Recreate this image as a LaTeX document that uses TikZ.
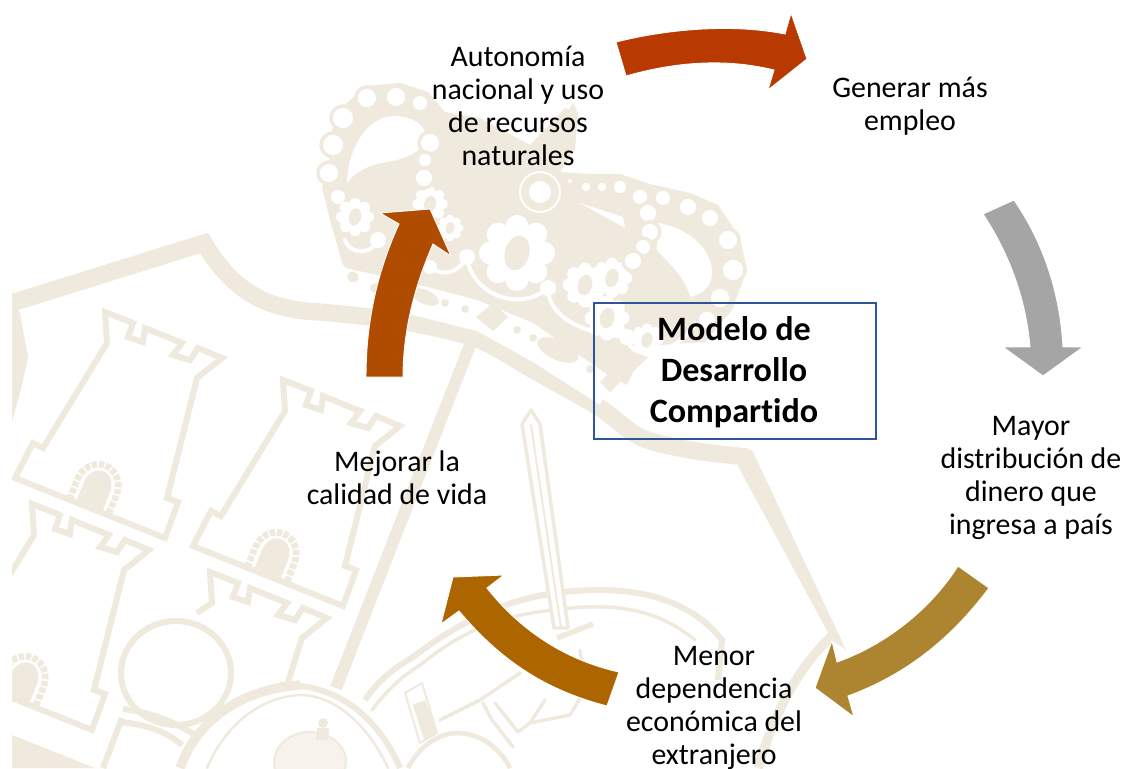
\documentclass[tikz,border=0pt]{standalone}
\usepackage{fontspec}
\setmainfont[Ligatures=NoCommon]{Carlito}
\definecolor{wmc}{HTML}{F0E9DE}
\definecolor{wml}{HTML}{F7F3EC}
\definecolor{boxc}{HTML}{2F5597}
\definecolor{ared}{HTML}{B83A00}
\definecolor{agray}{HTML}{A5A5A5}
\definecolor{agold}{HTML}{AD8531}
\definecolor{abrown}{HTML}{AD6500}
\definecolor{aorange}{HTML}{B04C00}
\tikzset{
  wmline/.style={draw=wmc,line width=4.5,line join=miter},
  wmthin/.style={draw=wmc,line width=2.6,line join=round,line cap=round},
  wmband/.style={draw=wmc,line width=13,line join=miter},
  bead/.style={fill=white,draw=wmc,line width=2.6},
  gapline/.style={draw=white,line width=3,line cap=round},
  flow/.style={fill=white,draw=none},
  block/.style={draw=white,line width=0.7,line join=miter},
  lab/.style={align=center,text=black,font=\fontsize{22.4}{24.9}\selectfont},
  title/.style={align=center,text=black,font=\fontsize{25.6}{30.8}\selectfont\bfseries},
}
\newcommand{\towerdome}[2]{%
  \begin{scope}[rotate around={-22:(#1,#2)}]
  \draw[wmc,line width=5,dash pattern=on 4pt off 1.3pt] (#1-21,#2+22) -- (#1-21,#2) arc (180:360:21 and 23) -- (#1+21,#2+22);
  \fill[wmc] (#1-14,#2+24) -- (#1-14,#2) arc (180:360:14 and 17) -- (#1+14,#2+24) -- cycle;
  \end{scope}}
\newcommand{\tower}{%
  \draw[wmline] (105,312) -- (133,323) -- (128,337) -- (143,342) -- (145,328) -- (182,343) -- (173,355) -- (190,360) -- (198,348) -- (222,358) -- (197,378) -- (167,498) -- (178,502) -- (165,538) -- (15,478) -- (33,443) -- (43,448) -- (107,343) -- cycle;
  \towerdome{97}{487}}
\newcommand{\flower}[3]{%
  \foreach \ang in {0,45,...,315}{\fill[flow] (#1,#2) ++(\ang:#3*0.78) circle (#3*0.34);}
  \fill[flow] (#1,#2) circle (#3*0.78);
  \fill[wmc,rotate around={-15:(#1,#2)}] (#1,#2) ellipse [x radius=#3*0.36,y radius=#3*0.52];}
\begin{document}
\begin{tikzpicture}[x=0.75pt,y=-0.75pt]
\useasboundingbox (0,0) rectangle (1125,768);
\fill[white] (0,0) rectangle (1125,768);
\begin{scope}
\clip (12,0) rectangle (1125,768);
% shield outline
\draw[wmband] plot[smooth,tension=0.5] coordinates {(320,312) (400,321) (477,339) (533,370) (600,408) (640,437) (690,450) (747,457)};
\draw[wmband] (5,305) -- (204,243) .. controls (232,290) and (265,310) .. (320,312);
\fill[wmc] (738,448) -- (752,450) -- (846,650) -- (832,640) -- (738,466) -- cycle;
\fill[wmc] (12,300) -- (20,313) -- (28,357) -- (22,385) -- (12,422) -- cycle;
\fill[wmc] (12,735) -- (95,768) -- (12,768) -- cycle;
% crown body
\fill[wmc] (322,187) -- (329,160) -- (332,130) -- (345,105) -- (365,86) -- (400,83) -- (428,92) -- (445,112) -- (480,118) -- (530,145) -- (565,108) -- (578,112) -- (575,150) -- (560,172) -- (590,174) -- (620,174) -- (650,184) -- (690,193) -- (718,205) -- (740,238) -- (747,270) -- (732,310) -- (705,342) -- (660,345) -- (633,372) -- (627,385) -- (560,350) -- (477,310) -- (400,285) -- (360,280) -- (343,265) -- (330,220) -- cycle;
\fill[white] (347,183) .. controls (348,150) and (365,118) .. (393,116) .. controls (410,116) and (422,122) .. (427,135) .. controls (425,150) and (410,158) .. (387,162) .. controls (368,165) and (355,172) .. (347,183) -- cycle;
\fill[white] (658,223) .. controls (690,228) and (712,250) .. (712,273) .. controls (712,285) and (705,293) .. (690,297) .. controls (685,275) and (665,260) .. (657,250) -- cycle;
\fill[white] (580,203) -- (623,217) -- (625,228) -- cycle;
% jewel strip
\fill[white] (345,268) -- (400,280) -- (477,300) -- (533,323) -- (612,378) -- (600,405) -- (533,362) -- (477,331) -- (400,312) -- (345,297) -- cycle;
\foreach \x/\y/\ra/\rb in {425/297/15/7,558/350/22/10,353/277/6/5,375/288/5/5,445/303/4/4,465/309/4/4,517/330/4/4,533/338/4/4,590/369/4/4}{
  \fill[wmc,rotate around={-24:(\x,\y)}] (\x,\y) ellipse [x radius=\ra,y radius=\rb];}
\fill[wmc] (493,303) -- (508,317) -- (493,331) -- (476,317) -- cycle;
\fill[wmc] (610,372) -- (620,382) -- (610,392) -- (600,382) -- cycle;
% scallops and flowers
\draw[gapline] (430,267) .. controls (445,278) and (458,272) .. (467,257);
\draw[gapline] (467,257) .. controls (470,290) and (515,315) .. (548,288);
\draw[gapline] (548,288) .. controls (548,320) and (590,335) .. (627,337);
\draw[gapline] (627,337) .. controls (630,365) and (680,355) .. (700,317);
\draw[gapline] (345,240) .. controls (350,255) and (372,255) .. (378,240);
\flower{517}{253}{34}
\flower{585}{285}{20}
\flower{612}{278}{18}
\flower{607}{318}{20}
\flower{647}{340}{15}
\flower{355}{217}{17}
\flower{430}{204}{16}
\flower{450}{228}{12}
\foreach \x/\y/\r in {467/257/8,430/267/7,378/240/8,548/288/8,627/337/8,338/197/7}{\fill[white] (\x,\y) circle (\r);}
% big jewel
\draw[gapline,line width=1.5] (540,192) circle (20);
% beads
\foreach \x/\y/\r in {367/98/11,396/97/11,420/103/9,343/118/12,333/145/12,329/173/11,
  430/143/11,425/160/8,424/178/10,
  540/192/13,570/181/4,586/187/6,602/187/6,620/187/8,640/197/9,663/198/9,688/207/10,710/218/10,728/240/11,733/270/12,720/298/11,707/320/10,
  648/213/10,650/232/10,643/247/9,633/261/10}{
  \draw[bead] (\x,\y) circle (\r);}
\fill[wmc] (573,103) -- (577,110) -- (573,116) -- (569,110) -- cycle;
% castles
\tower
\begin{scope}[shift={(178,68)}]\tower\end{scope}
\begin{scope}[shift={(-73,192)}]\tower\end{scope}
\draw[wmline] (197,613) -- (212,603) -- (210,572) -- (238,583) -- (233,597) -- (248,602) -- (250,588) -- (287,603) -- (278,615) -- (295,620) -- (303,608) -- (327,618) -- (302,638) -- (288,682);
% central pale
\draw[wmc,line width=9] (470,345) -- (336,688);
% ring
\draw[wmline] (176,673) ellipse [x radius=55,y radius=52];
\draw[wmline] (123,709) .. controls (150,712) and (175,722) .. (195,735);
\draw[wmline] (120,722) .. controls (150,725) and (168,733) .. (182,745);
\draw[wmline] (122,718) -- (103,768);
% big lower circle
\draw[wmc,line width=7] (180,768) .. controls (195,725) and (235,690) .. (300,685);
\draw[wmline] (280,685) .. controls (330,683) and (375,710) .. (400,768);
\draw[wmthin,line width=1.8] (207,768) .. controls (225,725) and (260,697) .. (300,695) .. controls (335,695) and (368,725) .. (388,768);
\fill[wml] (310,762) ellipse [x radius=36,y radius=30];
\draw[wmthin,line width=1.5] (310,762) ellipse [x radius=36,y radius=30];
\fill[wmc] (323,723) circle (5) (317,728) -- (329,728) -- (328,740) -- (316,740) -- cycle;
% arcs
\draw[wmline] (365,700) .. controls (380,678) and (395,668) .. (413,657) .. controls (475,610) and (530,590) .. (600,590) .. controls (650,590) and (695,605) .. (722,640) -- (718,680);
\draw[wmthin] (372,710) .. controls (395,680) and (410,672) .. (423,663) .. controls (470,625) and (510,612) .. (585,607) .. controls (630,605) and (665,615) .. (695,640);
% sword
\draw[wmthin,fill=white] (531,410) -- (522,424) -- (554,628) -- (568,628) -- (540,424) -- cycle;
\draw[wmthin,line width=1.5] (531,425) -- (561,628);
\draw[wmline,line width=4] (557,638) -- (593,624);
% lower figure
\draw[wmthin,line width=1.5] (405,693) -- (422,683) -- (437,733) -- (420,743) -- cycle;
\fill[wmc] (413,705) -- (425,700) -- (437,733) -- (424,740) -- cycle;
\draw[wmline,line width=3.5] (408,768) .. controls (420,745) and (440,733) .. (457,733) .. controls (480,733) and (500,748) .. (510,768);
\draw[wmthin] (440,720) -- (480,700) -- (520,673);
\draw[wmthin] (483,703) -- (492,720) -- (513,747);
\draw[wmthin] (495,703) -- (518,732) -- (530,723) -- (545,700);
\draw[wmthin] (530,723) -- (570,715) -- (585,690) -- (580,650);
% lower right band
\draw[wmc,line width=7] (758,768) .. controls (775,710) and (800,665) .. (833,635);
\end{scope}
% arrows
\fill[ared,block] (616,42) .. controls (672,28) and (735,24) .. (785,34) -- (791,13) -- (807,59) -- (768,90) -- (774,70) .. controls (725,58) and (675,62) .. (626,76) -- cycle;
\fill[agray,block] (983,214) -- (1014,200) .. controls (1045,245) and (1060,295) .. (1063,347) -- (1083,347) -- (1043,376) -- (1003,347) -- (1030,347) .. controls (1026,300) and (1010,255) .. (983,214) -- cycle;
\fill[agold,block] (958,566) -- (989,588) .. controls (950,640) and (905,675) .. (848,696) -- (854,717) -- (815,688) -- (832,641) -- (837,662) .. controls (885,645) and (930,610) .. (958,566) -- cycle;
\fill[abrown,block] (619,672) -- (607,706) .. controls (545,690) and (500,660) .. (459,611) -- (441,624) -- (453,577) -- (504,575) -- (487,588) .. controls (520,630) and (565,660) .. (619,672) -- cycle;
\fill[aorange,block] (366,377) .. controls (366,320) and (378,270) .. (399,224) -- (380,213) -- (430,209) -- (451,256) -- (433,244) .. controls (415,285) and (403,330) .. (403,377) -- cycle;
% box and texts
\node[draw=boxc,line width=1.4,minimum width=211.5pt,minimum height=102pt,inner sep=0pt,anchor=north west] (box) at (593,302) {};
\node[title] (title) at (734,372) {Modelo de\\Desarrollo\\Compartido};
\node[lab] (autonomia) at (518,106) {Autonomía\\nacional y uso\\de recursos\\naturales};
\node[lab] (generar) at (910,106) {Generar más\\empleo};
\node[lab] (mayor) at (1031,478) {Mayor\\distribución de\\dinero que\\ingresa a país};
\node[lab] (menor) at (714,708) {Menor\\dependencia\\económica del\\extranjero};
\node[lab] (mejorar) at (397,478) {Mejorar la\\calidad de vida};
\end{tikzpicture}
\end{document}
